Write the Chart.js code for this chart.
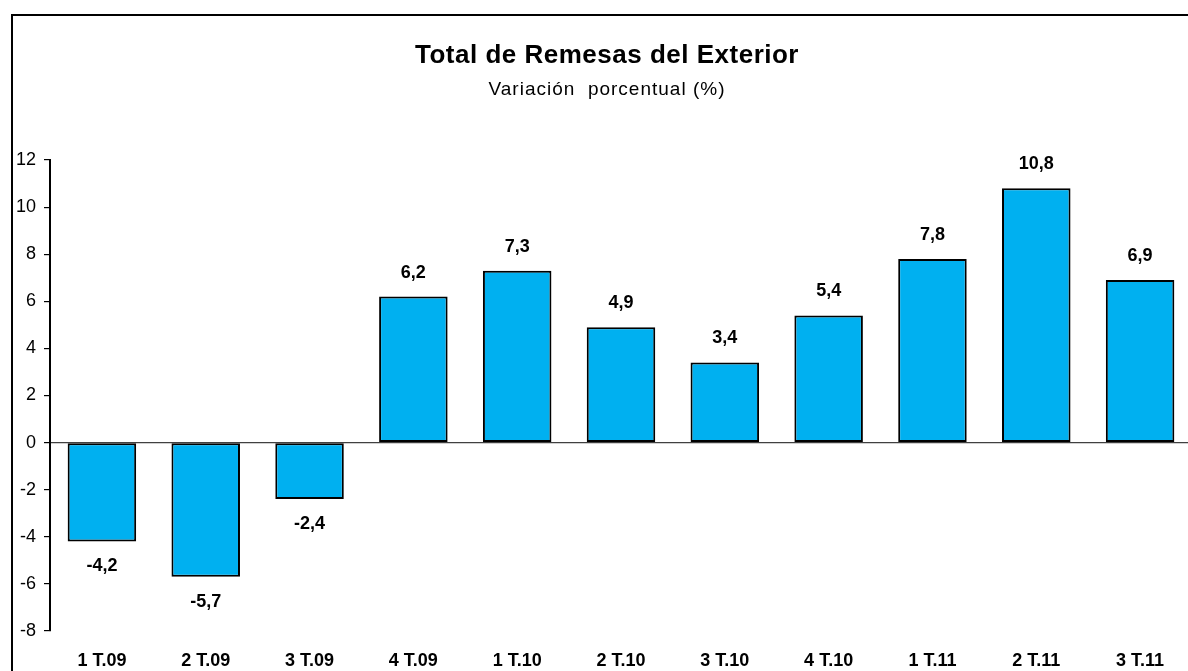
<!DOCTYPE html>
<html>
<head>
<meta charset="utf-8">
<style>
  html, body { margin: 0; padding: 0; background: #fff; overflow: hidden; }
  #frame { position: absolute; left: 11px; top: 14px; width: 1300px; height: 800px;
           border-left: 2px solid #000; border-top: 2px solid #000; }
  #wrap { position: absolute; left: 0; top: 0; width: 1200px; height: 700px; }
</style>
</head>
<body>
<div id="frame"></div>
<div id="wrap"><canvas id="myChart"></canvas></div>

<script src="https://cdn.jsdelivr.net/npm/chart.js"></script>
<script>
  const categories = ["1 T.09","2 T.09","3 T.09","4 T.09","1 T.10","2 T.10","3 T.10","4 T.10","1 T.11","2 T.11","3 T.11"];
  const remesas = [-4.2, -5.7, -2.4, 6.2, 7.3, 4.9, 3.4, 5.4, 7.8, 10.8, 6.9];
  const yTicks = [-8, -6, -4, -2, 0, 2, 4, 6, 8, 10, 12];

  const titleText = "Total de Remesas del Exterior";
  const subtitleText = "Variación  porcentual (%)";
  const fam = "'Liberation Sans', Arial, sans-serif";

  // titulo y subtitulo dibujados a mano
  const titles = {
    id: 'titles',
    afterDraw(chart) {
      const c = chart.ctx;
      c.save();
      c.fillStyle = '#000';
      c.textAlign = 'center';
      c.textBaseline = 'middle';
      c.font = 'bold 26px ' + fam;
      c.letterSpacing = '0.5px';
      c.fillText(titleText, 607, 56);
      c.font = '19px ' + fam;
      c.letterSpacing = '1px';
      c.fillText(subtitleText, 607, 90);
      c.restore();
    }
  };

  // etiquetas de valor sobre / bajo cada barra
  const valueLabels = {
    id: 'valueLabels',
    afterDatasetsDraw(chart) {
      const c = chart.ctx;
      const meta = chart.getDatasetMeta(0);
      c.save();
      c.fillStyle = '#000';
      c.font = 'bold 18px ' + fam;
      c.textAlign = 'center';
      c.textBaseline = 'middle';
      meta.data.forEach((bar, i) => {
        const v = remesas[i];
        const y = v >= 0 ? bar.y - 24 : bar.y + 25;
        c.fillText(v.toFixed(1).replace('.', ','), bar.x, y);
      });
      c.restore();
    }
  };

  const ctx = document.getElementById('myChart');
  new Chart(ctx, {
    type: 'bar',
    data: {
      labels: categories,
      datasets: [{
        data: remesas,
        backgroundColor: '#00B0F0',
        borderColor: '#000',
        borderWidth: 2,
        borderSkipped: false,
        barPercentage: 0.66,
        categoryPercentage: 1
      }]
    },
    options: {
      responsive: true,
      maintainAspectRatio: false,
      animation: false,
      layout: { padding: { top: 160, right: 8, left: 0, bottom: 0 } },
      plugins: { legend: { display: false }, tooltip: { enabled: false } },
      scales: {
        x: {
          grid: { display: false },
          border: { display: false },
          ticks: { color: '#000', font: { family: fam, size: 18, weight: 'bold' }, padding: 11, maxRotation: 0 },
          afterFit(scale) { scale.height = 69; }
        },
        y: {
          min: -8,
          max: 12,
          afterBuildTicks(scale) { scale.ticks = yTicks.map(v => ({ value: v })); },
          grid: {
            color: c => (c.tick && c.tick.value === 0) ? '#404040' : 'transparent',
            tickColor: '#000',
            tickLength: 6,
            lineWidth: 1.2
          },
          border: { display: true, color: '#000', width: 2 },
          ticks: { color: '#000', font: { family: fam, size: 18 }, padding: 8 },
          afterFit(scale) { scale.width = 50; }
        }
      }
    },
    plugins: [titles, valueLabels]
  });
</script>
</body>
</html>
